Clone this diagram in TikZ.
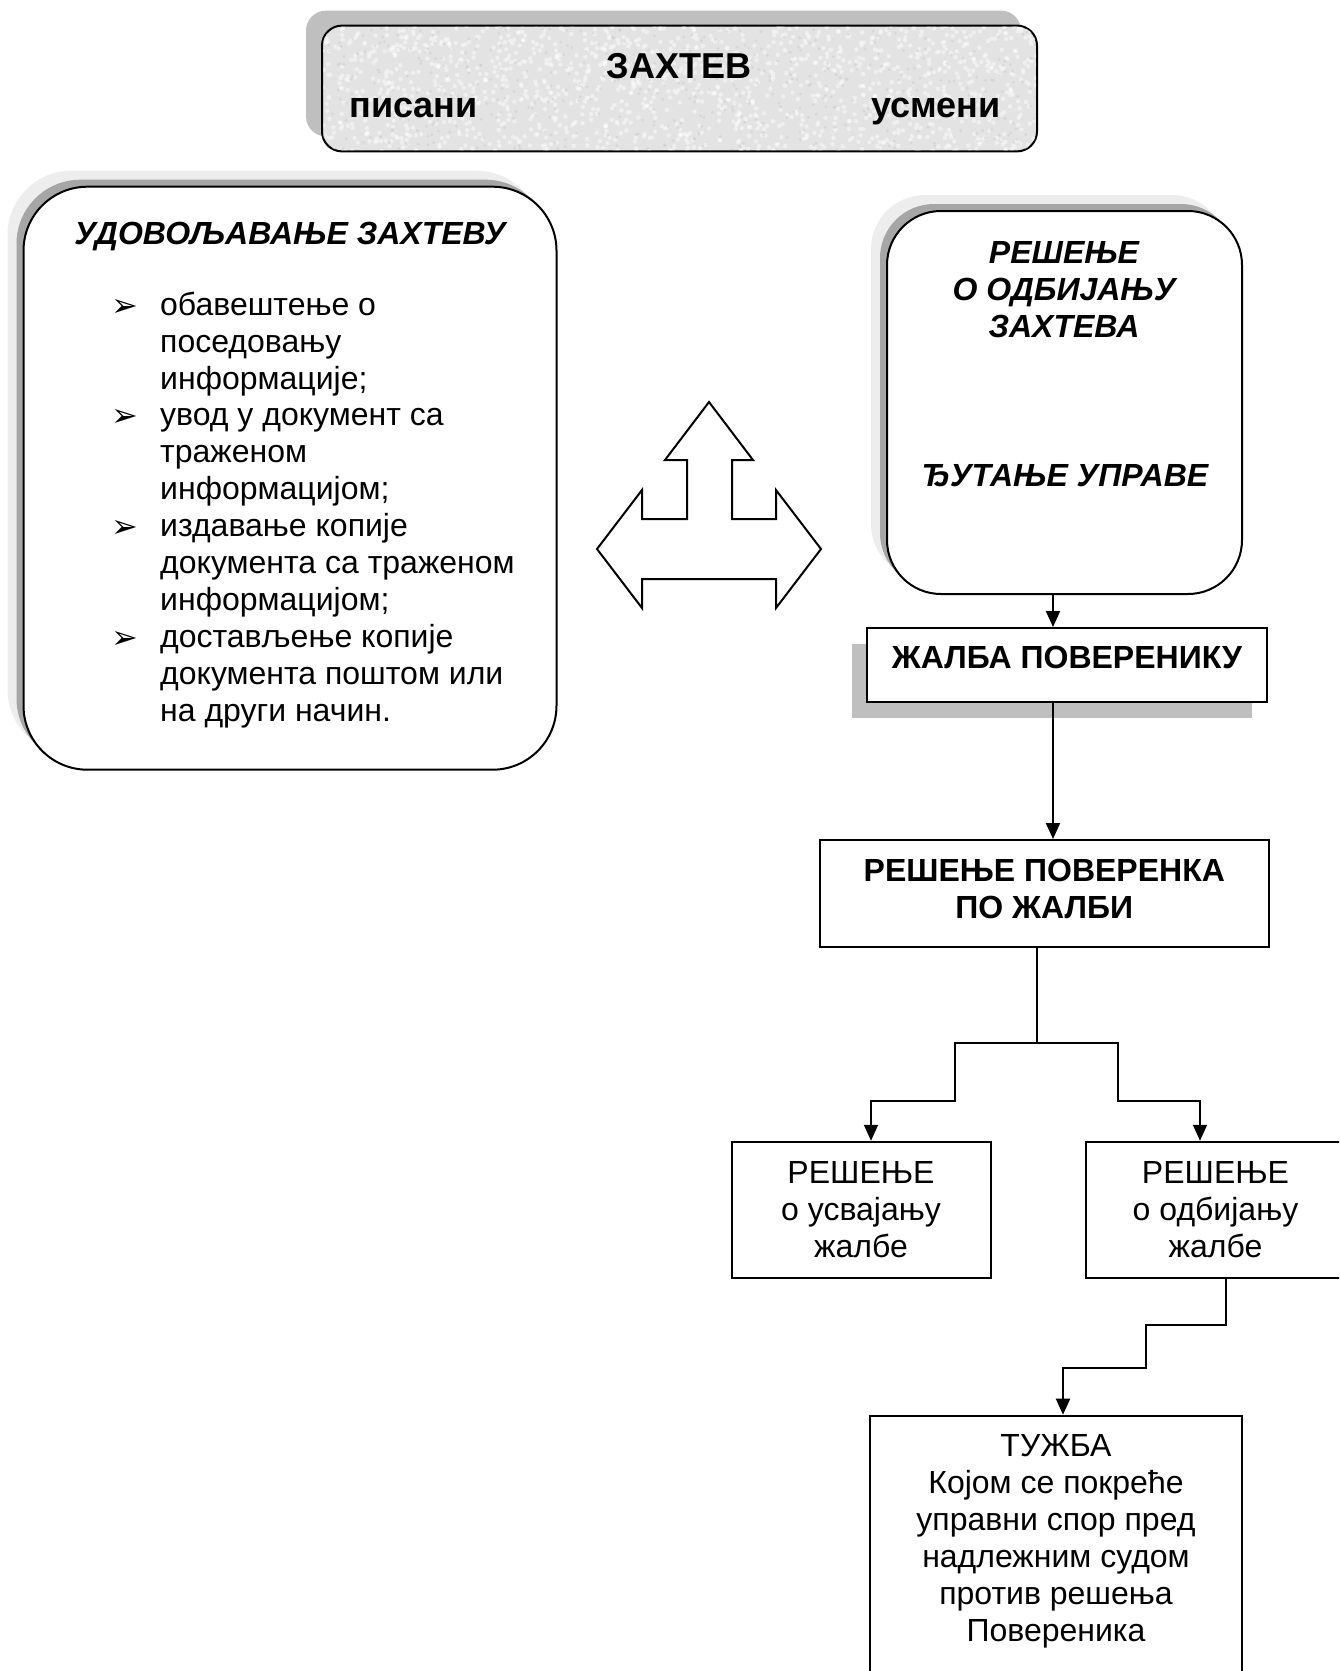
\documentclass[tikz,border=0pt]{standalone}
\usepackage{fontspec}
\setmainfont{Liberation Sans}
\newfontfamily\strelice{DejaVu Sans}
\usetikzlibrary{arrows.meta,shadows}

\newcommand{\tacka}{\makebox[24.4pt][l]{\raisebox{-0.5pt}{\strelice\fontsize{16}{16}\selectfont ➢}}}

\tikzset{
    okvir/.style={draw, line width=1pt, inner sep=0pt},
    obli/.style={okvir, fill=white, rounded corners=#1,
        drop shadow={shadow xshift=-8pt, shadow yshift=8pt, fill=black!7, opacity=1},
        drop shadow={shadow xshift=-3.5pt, shadow yshift=3.5pt, fill=black!35, opacity=1}},
    tekst/.style={font=\fontsize{16}{18.45}\selectfont, align=center, inner sep=0pt},
    strela/.style={line width=1pt, -{Triangle[length=8pt,width=7pt]}},
    linija/.style={line width=1pt},
}

\begin{document}
\begin{tikzpicture}[x=0.5pt, y=-0.5pt]
    \useasboundingbox (0,0) rectangle (1339,1671);
    \clip (0,0) rectangle (1339,1671);

    % zahtev
    \node[okvir, rounded corners=10pt, fill=black!11, minimum width=357.5pt, minimum height=62.9pt,
          drop shadow={shadow xshift=-8pt, shadow yshift=7.5pt, fill=black!25, opacity=1}] (zahtev) at (679.5, 88.5) {};
    \begin{scope}
        \clip[rounded corners=9pt] ([shift={(1pt,-1pt)}]zahtev.north west) rectangle ([shift={(-1pt,1pt)}]zahtev.south east);
        \pgfmathsetseed{17}
        \foreach \i in {1,...,1400}
            \fill[white, opacity=0.45] (322+715*rnd, 25+127*rnd) circle (1.1pt);
        \foreach \i in {1,...,500}
            \fill[black!22, opacity=0.4] (322+715*rnd, 25+127*rnd) circle (0.8pt);
    \end{scope}
    \node[font=\fontsize{18}{20}\selectfont\bfseries, anchor=base] (zahtevNaslov) at (679, 78) {ЗАХТЕВ};
    \node[font=\fontsize{18}{20}\selectfont\bfseries, anchor=base] (pisani) at (413.6, 117.5) {писани};
    \node[font=\fontsize{18}{20}\selectfont\bfseries, anchor=base] (usmeni) at (936, 117.5) {усмени};

    % udovoljavanje zahtevu
    \node[obli=32pt, minimum width=266.5pt, minimum height=291.5pt] (udovoljavanje) at (290, 478.2) {};
    \node[tekst, font=\fontsize{16}{18.45}\selectfont\bfseries\itshape, anchor=base] (udovoljavanjeNaslov) at (290, 244) {УДОВОЉАВАЊЕ ЗАХТЕВУ};
    \node[tekst, anchor=north west] (stavke) at (111, 289) {%
        \begin{tabular}{@{}l@{}l@{}}
        \tacka & обавештење о\\
        & поседовању\\
        & информације;\\
        \tacka & увод у документ са\\
        & траженом\\
        & информацијом;\\
        \tacka & издавање копије\\
        & документа са траженом\\
        & информацијом;\\
        \tacka & достављење копије\\
        & документа поштом или\\
        & на други начин.
        \end{tabular}};

    % odbijanje / cutanje
    \node[obli=27pt, minimum width=177.5pt, minimum height=191.5pt] (odbijanje) at (1064.5, 402.5) {};
    \node[tekst, font=\fontsize{16}{18.45}\selectfont\bfseries\itshape, anchor=north] (odbijanjeNaslov) at (1064, 241) {РЕШЕЊЕ\\О ОДБИЈАЊУ\\ЗАХТЕВА};
    \node[tekst, font=\fontsize{16}{18.45}\selectfont\bfseries\itshape, anchor=base] (cutanje) at (1065, 486) {ЂУТАЊЕ УПРАВЕ};

    % trostruka strelica
    \draw[linija] (709,402) -- (753,460) -- (732,460) -- (732,519) -- (776,519) -- (776,490) -- (821,549)
        -- (776,608) -- (776,579) -- (642,579) -- (642,608) -- (597,549) -- (642,490) -- (642,519)
        -- (687,519) -- (687,460) -- (665,460) -- cycle;

    % zalba i resenja
    \node[okvir, fill=white, minimum width=199.8pt, minimum height=36.75pt, text depth=7pt,
          font=\fontsize{16}{18.45}\selectfont\bfseries,
          drop shadow={shadow xshift=-7.5pt, shadow yshift=-8pt, fill=black!25, opacity=1}] (zalba) at (1067, 664.75) {ЖАЛБА ПОВЕРЕНИКУ};
    \node[okvir, tekst, font=\fontsize{16}{18.45}\selectfont\bfseries, minimum width=224.3pt, minimum height=53.35pt,
          text depth=4.8pt] (resenjePov) at (1044.3, 893.35) {РЕШЕЊЕ ПОВЕРЕНКА\\ПО ЖАЛБИ};
    \node[okvir, tekst, minimum width=129.5pt, minimum height=68.25pt] (usvajanje) at (861, 1210) {РЕШЕЊЕ\\о усвајању\\жалбе};
    \node[okvir, tekst, minimum width=129.5pt, minimum height=68.25pt] (odbijanjeZalbe) at (1215.5, 1210) {РЕШЕЊЕ\\о одбијању\\жалбе};
    \node[okvir, tekst, anchor=north, minimum width=186pt, inner ysep=9.6pt, text depth=40pt] (tuzba) at (1056, 1414.7)
        {ТУЖБА\\Којом се покреће\\управни спор пред\\надлежним судом\\против решења\\Повереника};

    % veze
    \coordinate (kicma) at (1053, 0);
    \draw[strela] (odbijanje.south -| kicma) -- (zalba.north -| kicma);
    \draw[strela] (zalba.south -| kicma) -- (resenjePov.north -| kicma);
    \coordinate (racva) at (1037, 1042.6);
    \draw[linija] (resenjePov.south -| racva) -- (racva);
    \draw[strela] (racva) -| (955,1101) -| ([xshift=5pt]usvajanje.north);
    \draw[strela] (racva) -| (1118,1101) -| ([xshift=-7.75pt]odbijanjeZalbe.north);
    \draw[strela] ([xshift=5.25pt]odbijanjeZalbe.south) |- (1146,1325) |- (1063,1367.8) -- (tuzba.north -| 1063,0);
\end{tikzpicture}
\end{document}
